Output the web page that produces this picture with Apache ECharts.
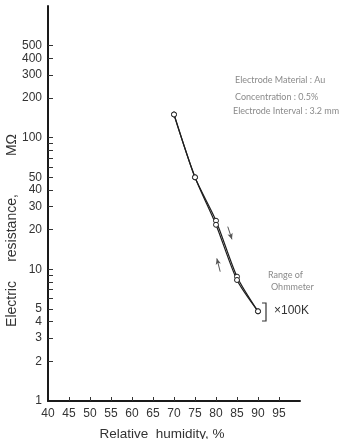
<!DOCTYPE html>
<html>
<head>
<meta charset="utf-8">
<script src="https://cdn.jsdelivr.net/npm/echarts@6/dist/echarts.min.js"></script>
<style>
  html, body { margin: 0; padding: 0; background: #ffffff; }
  #chart { width: 347px; height: 439px; }
</style>
</head>
<body>
<div id="chart"></div>
<script>
// Relative humidity (%) at each measurement
const humidity = [70, 75, 80, 85, 90];
// Resistance (MΩ) while humidity rises
const resistanceRising = [150, 50, 23.4, 8.8, 4.8];
// Resistance (MΩ) while humidity falls
const resistanceFalling = [150, 50, 21.8, 8.3, 4.8];

// Axis ticks and labels
const xLabels = [40, 45, 50, 55, 60, 65, 70, 75, 80, 85, 90, 95];
const xTicks = [45, 50, 55, 60, 65, 70, 75, 80, 85, 90, 95];
const yLabels = [1, 2, 3, 4, 5, 10, 20, 30, 40, 50, 100, 200, 300, 400, 500];
const yTicks = [2, 3, 4, 5, 6, 7, 8, 9, 10, 20, 30, 40, 50, 60, 70, 80, 90, 100, 200, 300, 400, 500];

// Direction arrows beside the loop: [from, to]
const arrowDown = [[82.8, 21.1], [83.8, 16.9]];
const arrowUp = [[81.0, 9.6], [80.2, 12.1]];

const pairs = (xs, ys) => xs.map((x, i) => [x, ys[i]]);

const FONT = '"Liberation Sans", Arial, sans-serif';
const THIN = 'Lato, "Open Sans", sans-serif';

const chart = echarts.init(document.getElementById('chart'), null, { renderer: 'canvas' });

const lineStyle = { color: '#1e1e1e', width: 1.2 };
const symbolStyle = { color: '#ffffff', borderColor: '#1e1e1e', borderWidth: 1 };

// Rotated title piece for the vertical axis
const vTitle = (text, y) => ({
  type: 'text', x: 12, y: y, rotation: Math.PI / 2,
  style: { text: text, fill: '#333', font: '14px ' + FONT, align: 'center', verticalAlign: 'middle' }
});

chart.setOption({
  animation: false,
  backgroundColor: '#ffffff',
  grid: { left: 48, right: 47, top: 6, bottom: 38, outerBoundsMode: 'none', containLabel: false },
  xAxis: {
    type: 'value',
    min: 40,
    max: 100,
    interval: 5,
    splitLine: { show: false },
    axisLine: { lineStyle: { color: '#1a1a1a', width: 2 } },
    axisTick: { inside: true, length: 4, lineStyle: { color: '#333', width: 1 }, customValues: xTicks },
    axisLabel: { color: '#333', fontFamily: FONT, fontSize: 12, margin: 7, customValues: xLabels }
  },
  yAxis: {
    type: 'log',
    logBase: 10,
    min: 1,
    max: 1000,
    splitLine: { show: false },
    axisLine: { lineStyle: { color: '#1a1a1a', width: 2 } },
    axisTick: { inside: true, length: 5, lineStyle: { color: '#333', width: 1 }, customValues: yTicks },
    axisLabel: { color: '#333', fontFamily: FONT, fontSize: 12, margin: 6, customValues: yLabels }
  },
  series: [
    {
      type: 'line',
      data: pairs(humidity, resistanceRising),
      smooth: 0.25,
      symbol: 'circle',
      symbolSize: 5,
      lineStyle: lineStyle,
      itemStyle: symbolStyle,
      z: 3,
      markLine: {
        silent: true,
        symbol: ['none', 'arrow'],
        symbolSize: [4, 6],
        label: { show: false },
        lineStyle: { color: '#555', width: 1, type: 'solid' },
        data: [
          [{ coord: arrowDown[0] }, { coord: arrowDown[1] }],
          [{ coord: arrowUp[0] }, { coord: arrowUp[1] }]
        ]
      }
    },
    {
      type: 'line',
      data: pairs(humidity, resistanceFalling),
      smooth: 0.25,
      symbol: 'circle',
      symbolSize: 5,
      lineStyle: lineStyle,
      itemStyle: symbolStyle,
      z: 3
    }
  ],
  graphic: [
    // axis titles
    vTitle('Electric', 304),
    vTitle('resistance,', 228),
    vTitle('MΩ', 145),
    {
      type: 'text', x: 162, y: 434,
      style: { text: 'Relative  humidity, %', fill: '#333', font: '13.5px ' + FONT, align: 'center', verticalAlign: 'middle' }
    },
    // notes
    { type: 'text', left: 235, top: 76, style: { text: 'Electrode Material : Au', fill: '#8a8a8a', font: '9px ' + THIN } },
    { type: 'text', left: 235, top: 93, style: { text: 'Concentration : 0.5%', fill: '#8a8a8a', font: '9px ' + THIN } },
    { type: 'text', left: 233, top: 107, style: { text: 'Electrode Interval : 3.2 mm', fill: '#8a8a8a', font: '9px ' + THIN } },
    { type: 'text', left: 268, top: 271, style: { text: 'Range of', fill: '#8a8a8a', font: '9px ' + THIN } },
    { type: 'text', left: 271, top: 283, style: { text: 'Ohmmeter', fill: '#8a8a8a', font: '9px ' + THIN } },
    { type: 'polyline', shape: { points: [[262, 303], [266, 303], [266, 321], [262, 321]] }, style: { stroke: '#333', lineWidth: 1.2, fill: null } },
    { type: 'text', left: 274, top: 305, style: { text: '×100K', fill: '#333', font: '12px ' + FONT } }
  ]
});
</script>
</body>
</html>
